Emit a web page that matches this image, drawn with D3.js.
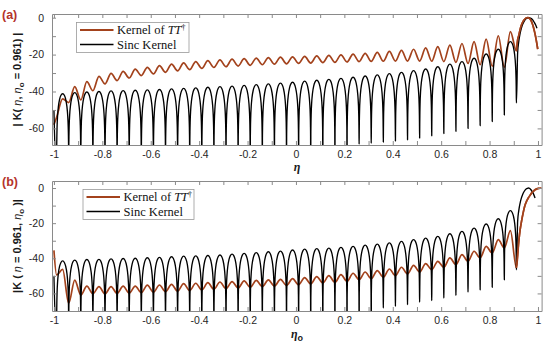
<!DOCTYPE html>
<html><head><meta charset="utf-8">
<script src="https://cdn.jsdelivr.net/npm/d3@7"></script>
<style>
html,body{margin:0;padding:0;background:#fff;}
text{font-family:"Liberation Sans",Arial,sans-serif;}
</style></head>
<body><svg id="chart" width="550" height="350"></svg>
<script>
// ---------------- DATA ----------------
const xTickValues = [-1,-0.9,-0.8,-0.7,-0.6,-0.5,-0.4,-0.3,-0.2,-0.1,0,0.1,0.2,0.3,0.4,0.5,0.6,0.7,0.8,0.9,1];
const xTickLabels = ["-1","-0.8","-0.6","-0.4","-0.2","0","0.2","0.4","0.6","0.8","1"];
const yTickValues = [0,-10,-20,-30,-40,-50,-60];
const yTickLabels = ["0","-20","-40","-60"];
const seriesNames = ["Kernel of TT\u2020","Sinc Kernel"];

// side-lobe null positions (eta) and side-lobe centre positions (eta)
const nullEta = [-0.989,-0.939,-0.889,-0.839,-0.789,-0.739,-0.689,-0.639,-0.589,-0.539,-0.489,-0.439,-0.389,-0.339,-0.289,-0.239,-0.189,-0.139,-0.089,-0.039,0.011,0.061,0.111,0.161,0.211,0.261,0.311,0.361,0.411,0.461,0.511,0.561,0.611,0.661,0.711,0.761,0.811,0.861,0.911];
const lobeEta = [-0.964,-0.914,-0.864,-0.814,-0.764,-0.714,-0.664,-0.614,-0.564,-0.514,-0.464,-0.414,-0.364,-0.314,-0.264,-0.214,-0.164,-0.114,-0.064,-0.014,0.036,0.086,0.136,0.186,0.236,0.286,0.336,0.386,0.436,0.486,0.536,0.586,0.636,0.686,0.736,0.786,0.836,0.886];

// (a) Sinc kernel: side-lobe peaks (dB) and null depths (dB, -90 = off scale)
const sincPeaksA = [-41.2,-40.6,-40.3,-40.0,-39.7,-39.5,-39.3,-39.1,-38.9,-38.6,-38.3,-38.0,-37.7,-37.4,-37.1,-36.7,-36.3,-35.9,-35.5,-35.0,-34.4,-33.9,-33.4,-32.9,-32.3,-31.6,-31.0,-30.3,-29.6,-28.7,-27.8,-26.6,-25.2,-23.8,-22.0,-19.7,-17.1,-13.0];
const sincNullsA = [-90,-90,-90,-90,-90,-90,-90,-90,-90,-90,-90,-90,-90,-90,-90,-90,-90,-90,-90,-90,-90,-90,-90,-90,-90,-68.5,-68.0,-67.4,-66.8,-66.2,-65.2,-64.0,-62.8,-61.6,-60.0,-58.5,-56.3,-52.7,-46.2];
const sincStartA = [-1.0,-50];
const sincMainEtaA = [0.916,0.921,0.926,0.931,0.936,0.941,0.946,0.951,0.956,0.961,0.966,0.971,0.976,0.981,0.986,0.991,0.996];
const sincMainA    = [-19,-12.6,-8.7,-5.9,-3.9,-2.4,-1.3,-0.6,-0.15,0,-0.1,-0.4,-0.9,-1.7,-2.8,-4.1,-5.7];

// (a) Kernel of TT†: ripple peaks at lobe centres, dips at nulls
const ttPeaksA = [-44.0,-37.4,-34.7,-31.8,-30.2,-29.1,-27.9,-26.9,-26.0,-25.2,-24.5,-23.8,-23.3,-22.9,-22.5,-22.2,-21.9,-21.6,-21.4,-21.2,-21.0,-20.7,-20.4,-20.1,-19.7,-19.3,-18.8,-18.3,-17.7,-17.1,-16.4,-15.7,-14.9,-14.0,-13.0,-11.6,-9.8,-7.5];
const ttDipsA  = [-54,-46,-44.6,-39.6,-35.9,-34.1,-32.7,-31.4,-30.5,-29.6,-28.8,-28.2,-27.5,-27.0,-26.6,-26.2,-25.8,-25.5,-25.2,-25.0,-24.8,-24.6,-24.4,-24.2,-24.0,-23.8,-23.7,-23.6,-23.5,-23.5,-23.5,-23.6,-23.8,-24.2,-24.8,-25.5,-26.3,-26.8,-18];
const ttStartA = [-1.0,-58];
const ttMainEtaA = [0.916,0.921,0.926,0.931,0.936,0.941,0.946,0.951,0.958,0.966,0.971,0.976,0.981,0.986,0.991,0.995,0.999];
const ttMainA    = [-12,-9.5,-6.5,-4.3,-2.7,-1.5,-0.7,-0.2,0,-0.5,-1.5,-3,-5,-7.7,-10.8,-13.8,-17];

// (b) Sinc kernel
const sincPeaksB = [-41.5,-41.0,-40.7,-40.6,-40.3,-40.1,-40.0,-39.7,-39.5,-39.1,-38.8,-38.6,-38.4,-38.1,-37.6,-37.2,-36.8,-36.3,-35.9,-35.3,-34.8,-34.5,-34.2,-33.8,-33.2,-32.5,-31.9,-31.2,-30.4,-29.4,-28.5,-27.5,-26.0,-24.7,-22.8,-20.5,-17.5,-12.9];
const sincNullsB = [-90,-90,-90,-90,-90,-90,-90,-90,-90,-90,-90,-90,-90,-90,-90,-90,-90,-90,-90,-90,-90,-90,-90,-90,-90,-90,-90,-68.3,-67.3,-66.4,-64.9,-64.1,-62.6,-61.1,-59.2,-57.9,-56.5,-52.2,-46.5];
const sincStartB = [-1.0,-50];
const sincMainEtaB = [0.916,0.921,0.926,0.931,0.936,0.941,0.946,0.951,0.956,0.961,0.966,0.971,0.976,0.981,0.988];
const sincMainB    = [-19,-12.6,-8.7,-5.9,-3.9,-2.4,-1.3,-0.6,-0.15,0,-0.3,-1.0,-2.0,-3.2,-5.7];

// (b) Kernel of TT†
const ttPeaksB = [-46.3,-52.4,-55.8,-56.1,-56.1,-55.8,-55.8,-55.3,-55.2,-54.8,-54.4,-54.2,-53.9,-53.5,-53.3,-52.9,-52.6,-52.3,-52.0,-51.6,-51.0,-50.4,-49.9,-49.3,-48.5,-47.8,-47.0,-46.1,-45.1,-44.0,-43.0,-41.7,-39.8,-37.9,-36.0,-33.2,-29.4,-24.3];
const ttDipsB  = [-49.5,-65.6,-60.9,-60.2,-60.3,-60.0,-59.8,-59.6,-59.3,-59.0,-58.7,-58.4,-58.1,-57.7,-57.3,-56.9,-56.5,-56.1,-55.8,-55.4,-55.0,-54.6,-54.0,-53.7,-53.1,-52.2,-51.6,-50.8,-49.9,-48.9,-47.8,-46.5,-45.1,-43.6,-41.7,-39.8,-37.0,-34.1,-45.5];
const ttStartB = [-1.0,-35.5];
const ttMainEtaB = [0.921,0.926,0.932,0.939,0.946,0.953,0.960,0.968,0.975,0.982,0.988,0.995,1.003,1.015];
const ttMainB    = [-30,-24,-19,-14,-10,-7.5,-5.7,-4,-2.6,-1.7,-1,-0.5,-0.2,0];

// shape of one sinc side lobe (fraction across lobe, dB relative to lobe peak)
const lobeProfile = [[0.01,-30],[0.02,-24],[0.04,-18],[0.08,-12.1],[0.15,-6.9],[0.25,-3],[0.35,-1],[0.5,0],[0.65,-1],[0.75,-3],[0.85,-6.9],[0.92,-12.1],[0.96,-18],[0.98,-24],[0.99,-30]];

// ---------------- BUILD ----------------
const RED = "#a3421c";
const svg = d3.select("#chart");

function sincPoints(start, peaks, nulls, mainEta, mainVal){
  const pts = [start];
  for (let i = 0; i < nullEta.length; i++){
    pts.push([nullEta[i], nulls[i]]);
    if (i < lobeEta.length){
      const a = nullEta[i], b = nullEta[i+1];
      lobeProfile.forEach(([t, off]) => {
        const floor = t < 0.5 ? nulls[i] : nulls[i+1];
        pts.push([a + t*(b-a), Math.max(peaks[i] + off, floor)]);
      });
    }
  }
  mainEta.forEach((e, i) => pts.push([e, mainVal[i]]));
  return pts;
}
function ttPoints(start, peaks, dips, mainEta, mainVal){
  const pts = [start];
  for (let i = 0; i < nullEta.length; i++){
    pts.push([nullEta[i], dips[i]]);
    if (i < lobeEta.length) pts.push([lobeEta[i], peaks[i]]);
  }
  mainEta.forEach((e, i) => pts.push([e, mainVal[i]]));
  return pts;
}

function panel(cfg){
  const x = d3.scaleLinear().domain([-1.008, 1.015]).range([52, 541.6]);
  const y = d3.scaleLinear().domain(cfg.yDomain).range([cfg.bottom, cfg.top]);
  const g = svg.append("g");
  const clipId = "clip" + cfg.id;
  svg.append("clipPath").attr("id", clipId).append("rect")
    .attr("x", 52).attr("y", cfg.top).attr("width", 541.6-52).attr("height", cfg.bottom-cfg.top);

  const line = d3.line().x(d => x(d[0])).y(d => y(d[1])).curve(d3.curveMonotoneX);
  const plot = g.append("g").attr("clip-path", `url(#${clipId})`);
  plot.append("path").datum(cfg.tt).attr("d", line).attr("fill","none")
    .attr("stroke", RED).attr("stroke-width", 1.7).attr("stroke-linejoin","round");
  plot.append("path").datum(cfg.sinc).attr("d", line).attr("fill","none")
    .attr("stroke", "#000").attr("stroke-width", 1.35).attr("stroke-linejoin","round");
  plot.append("path").datum(cfg.tt.filter(d => d[0] > 0.9)).attr("d", line).attr("fill","none")
    .attr("stroke", RED).attr("stroke-width", 1.7);

  // frame + ticks (inward, all four sides)
  const frame = "#8a8a8a";
  const fmt = v => xTickLabels.includes(String(v)) ? String(v) : "";
  const axB = d3.axisBottom(x).tickValues(xTickValues).tickSizeInner(-4).tickSizeOuter(0).tickFormat(fmt).tickPadding(6);
  const axT = d3.axisTop(x).tickValues(xTickValues).tickSizeInner(-4).tickSizeOuter(0).tickFormat("");
  const fmtY = v => yTickLabels.includes(String(v)) ? String(v) : "";
  const axL = d3.axisLeft(y).tickValues(yTickValues).tickSizeInner(-4).tickSizeOuter(0).tickFormat(fmtY).tickPadding(8);
  const axR = d3.axisRight(y).tickValues(yTickValues).tickSizeInner(-4).tickSizeOuter(0).tickFormat("");
  const gB = g.append("g").attr("transform", `translate(0,${cfg.bottom})`).call(axB);
  const gT = g.append("g").attr("transform", `translate(0,${cfg.top})`).call(axT);
  const gL = g.append("g").attr("transform", `translate(52,0)`).call(axL);
  const gR = g.append("g").attr("transform", `translate(541.6,0)`).call(axR);
  [gB,gT,gL,gR].forEach(a => {
    a.select(".domain").attr("stroke", frame);
    a.selectAll(".tick line").attr("stroke", frame);
    a.selectAll("text").attr("fill","#262626").style("font-size","10.5px")
      .style("font-family",'"Liberation Sans",Arial,sans-serif');
  });

  // legend
  const L = cfg.legend;
  g.append("rect").attr("x", L.x).attr("y", L.y).attr("width", L.w).attr("height", L.h)
    .attr("fill","#fff").attr("stroke", "#9a9a9a").attr("stroke-width", 0.8);
  const items = [{c: RED, w: 1.8}, {c: "#000", w: 1.5}];
  items.forEach((it, i) => {
    const yy = L.y + 7.5 + i*14.5;
    g.append("line").attr("x1", L.x+3.5).attr("x2", L.x+37).attr("y1", yy).attr("y2", yy)
      .attr("stroke", it.c).attr("stroke-width", it.w);
    const t = g.append("text").attr("x", L.x+40.5).attr("y", yy+4)
      .style("font-family",'"Liberation Serif","Times New Roman",serif').style("font-size","12.5px").attr("fill","#111");
    if (i === 0){
      t.append("tspan").text("Kernel of ");
      t.append("tspan").style("font-style","italic").text("TT");
      t.append("tspan").attr("dy", -4.5).style("font-size","8px").text("\u2020");
    } else {
      t.text(seriesNames[1]);
    }
  });

  // panel label
  g.append("text").attr("x", 2).attr("y", cfg.top + 5).text(cfg.tag)
    .style("font-size","12.5px").style("font-weight","bold").attr("fill","#b5332b");

  // y label
  const yl = g.append("text").attr("transform", `translate(21,${(cfg.top+cfg.bottom)/2}) rotate(-90)`)
    .attr("text-anchor","middle").style("font-size","11px").style("font-weight","bold").attr("fill","#1a1a1a");
  cfg.ylabel(yl);

  // x label
  const xl = g.append("text").attr("x", 297).attr("y", cfg.bottom + cfg.xlOffset).attr("text-anchor","middle")
    .style("font-size","12px").style("font-weight","bold").attr("fill","#1a1a1a")
    .style("font-family",'"Liberation Serif","Times New Roman",serif');
  xl.append("tspan").style("font-style","italic").text("\u03B7");
  if (cfg.xsub){ xl.append("tspan").attr("dy", 3).style("font-size","9px")
      .style("font-family",'"Liberation Sans",Arial,sans-serif').text("o"); }
}

panel({
  id: "a", tag: "(a)", top: 14, bottom: 145, yDomain: [-69, 2],
  sinc: sincPoints(sincStartA, sincPeaksA, sincNullsA, sincMainEtaA, sincMainA),
  tt: ttPoints(ttStartA, ttPeaksA, ttDipsA, ttMainEtaA, ttMainA),
  legend: {x: 76.5, y: 22.5, w: 112.5, h: 30},
  xsub: false, xlOffset: 26,
  ylabel: t => {
    t.append("tspan").text("| K( ");
    t.append("tspan").style("font-style","italic").style("font-weight","normal").text("\u03B7");
    t.append("tspan").text(", ");
    t.append("tspan").style("font-style","italic").style("font-weight","normal").text("\u03B7");
    t.append("tspan").attr("dy", 2.5).style("font-size","8px").text("o");
    t.append("tspan").attr("dy", -2.5).text(" = 0.961) |");
  }
});
panel({
  id: "b", tag: "(b)", top: 181, bottom: 311, yDomain: [-70, 4],
  sinc: sincPoints(sincStartB, sincPeaksB, sincNullsB, sincMainEtaB, sincMainB),
  tt: ttPoints(ttStartB, ttPeaksB, ttDipsB, ttMainEtaB, ttMainB),
  legend: {x: 83, y: 189.5, w: 111, h: 30},
  xsub: true, xlOffset: 27,
  ylabel: t => {
    t.append("tspan").text("|K ( ");
    t.append("tspan").style("font-style","italic").style("font-weight","normal").text("\u03B7");
    t.append("tspan").text(" = 0.961, ");
    t.append("tspan").style("font-style","italic").style("font-weight","normal").text("\u03B7");
    t.append("tspan").attr("dy", 2.5).style("font-size","8px").text("o");
    t.append("tspan").attr("dy", -2.5).text(" )|");
  }
});
</script></body></html>
